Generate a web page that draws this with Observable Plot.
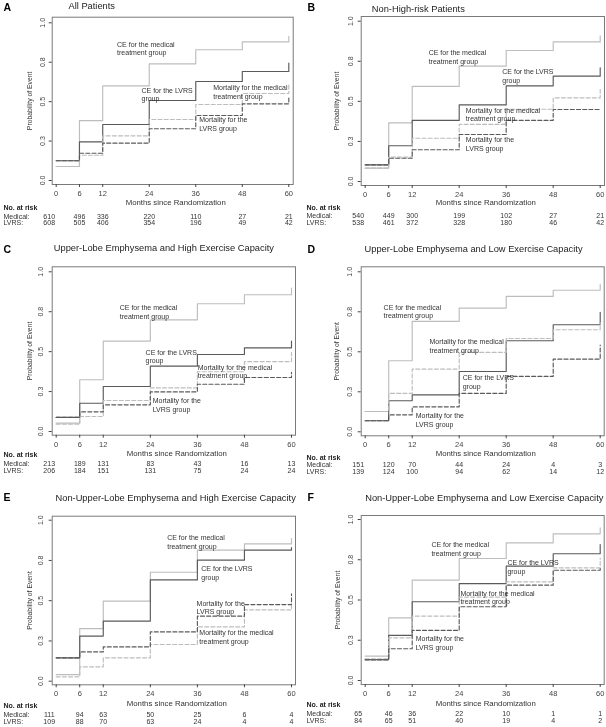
<!DOCTYPE html>
<html><head><meta charset="utf-8">
<script src="https://cdn.jsdelivr.net/npm/d3@7"></script>
<script src="https://cdn.jsdelivr.net/npm/@observablehq/plot@0.6"></script>
<style>
body{margin:0;background:#fff;}
#root{position:relative;width:606px;height:727px;overflow:hidden;background:#fff;}
.panel{position:absolute;will-change:transform;}
</style></head><body><div id="root"></div>
<script>
// ---------- data ----------
const months = [0, 6, 12, 24, 36, 48, 60];
const yTicks = [0, 0.25, 0.5, 0.75, 1];
const yTickLabels = ["0.0", "0.3", "0.5", "0.8", "1.0"];
const panelLetters = ["A", "B", "C", "D", "E", "F"];
const panelTitles = [
  "All Patients",
  "Non-High-risk Patients",
  "Upper-Lobe Emphysema and High Exercise Capacity",
  "Upper-Lobe Emphysema and Low Exercise Capacity",
  "Non-Upper-Lobe Emphysema and High Exercise Capacity",
  "Non-Upper-Lobe Emphysema and Low Exercise Capacity"
];
const seriesLabels = ["CE for the medical\ntreatment group", "CE for the LVRS\ngroup",
  "Mortality for the medical\ntreatment group", "Mortality for the\nLVRS group"];
const riskRowLabels = ["No. at risk", "Medical:", "LVRS:"];

// Panel A
const aCEMed    = [0.089, 0.380, 0.600, 0.740, 0.829, 0.879, 0.915];
const aCELvrs   = [0.125, 0.245, 0.355, 0.507, 0.628, 0.691, 0.744];
const aMortMed  = [0.089, 0.160, 0.283, 0.387, 0.482, 0.552, 0.613];
const aMortLvrs = [0.125, 0.173, 0.237, 0.328, 0.412, 0.486, 0.530];
const aRiskMed  = [610, 496, 336, 220, 110, 27, 21];
const aRiskLvrs = [608, 505, 406, 354, 196, 49, 42];
const aLabelMonth = [15.7, 22.0, 40.5, 36.9];
const aLabelProb  = [0.838, 0.547, 0.561, 0.362];

// Panel B
const bCEMed    = [0.083, 0.366, 0.593, 0.720, 0.817, 0.871, 0.909];
const bCELvrs   = [0.104, 0.223, 0.381, 0.478, 0.597, 0.657, 0.709];
const bMortMed  = [0.083, 0.152, 0.270, 0.356, 0.451, 0.522, 0.574];
const bMortLvrs = [0.104, 0.145, 0.198, 0.293, 0.381, 0.449, 0.449];
const bRiskMed  = [540, 449, 300, 199, 102, 27, 21];
const bRiskLvrs = [538, 461, 372, 328, 180, 46, 42];
const bLabelMonth = [16.2, 35.0, 25.7, 25.7];
const bLabelProb  = [0.778, 0.661, 0.419, 0.234];

// Panel C
const cCEMed    = [0.052, 0.324, 0.566, 0.699, 0.800, 0.856, 0.898];
const cCELvrs   = [0.088, 0.177, 0.282, 0.409, 0.482, 0.524, 0.566];
const cMortMed  = [0.046, 0.094, 0.194, 0.273, 0.374, 0.438, 0.495];
const cMortLvrs = [0.088, 0.123, 0.167, 0.248, 0.296, 0.338, 0.370];
const cRiskMed  = [213, 189, 131, 83, 43, 16, 13];
const cRiskLvrs = [206, 184, 151, 131, 75, 24, 24];
const cLabelMonth = [16.2, 22.8, 36.1, 24.6];
const cLabelProb  = [0.748, 0.471, 0.377, 0.166];

// Panel D
const dCEMed    = [0.127, 0.444, 0.690, 0.773, 0.846, 0.885, 0.921];
const dCELvrs   = [0.069, 0.194, 0.231, 0.377, 0.569, 0.669, 0.746];
const dMortMed  = [0.127, 0.240, 0.392, 0.496, 0.583, 0.638, 0.683];
const dMortLvrs = [0.069, 0.106, 0.156, 0.240, 0.346, 0.454, 0.542];
const dRiskMed  = [151, 120, 70, 44, 24, 4, 3];
const dRiskLvrs = [139, 124, 100, 94, 62, 14, 12];
const dLabelMonth = [4.7, 24.9, 16.4, 12.9];
const dLabelProb  = [0.753, 0.315, 0.540, 0.077];

// Panel E
const eCEMed    = [0.041, 0.327, 0.497, 0.677, 0.814, 0.853, 0.886];
const eCELvrs   = [0.145, 0.280, 0.373, 0.629, 0.752, 0.814, 0.830];
const eMortMed  = [0.027, 0.089, 0.145, 0.228, 0.337, 0.443, 0.476];
const eMortLvrs = [0.145, 0.182, 0.213, 0.306, 0.404, 0.476, 0.542];
const eRiskMed  = [111, 94, 63, 50, 25, 6, 4];
const eRiskLvrs = [109, 88, 70, 63, 24, 4, 4];
const eLabelMonth = [28.3, 37.0, 36.5, 35.8];
const eLabelProb  = [0.868, 0.674, 0.277, 0.459];

// Panel F
const fCEMed    = [0.151, 0.389, 0.623, 0.758, 0.855, 0.911, 0.948];
const fCELvrs   = [0.130, 0.280, 0.489, 0.602, 0.710, 0.787, 0.845];
const fMortMed  = [0.134, 0.265, 0.400, 0.518, 0.613, 0.700, 0.760];
const fMortLvrs = [0.128, 0.197, 0.311, 0.458, 0.592, 0.685, 0.700];
const fRiskMed  = [65, 46, 36, 22, 10, 1, 1];
const fRiskLvrs = [84, 65, 51, 40, 19, 4, 2];
const fLabelMonth = [16.9, 36.3, 24.3, 12.9];
const fLabelProb  = [0.818, 0.706, 0.517, 0.234];

// ---------- layout (pixels, panel-local) ----------
const layouts = [
  {left: 0,   top: 0,   h: 242, box: [51.7, 292.7, 16.7, 184],  xr: [55.7, 288.3], yr: [180, 22.3],
   letter: [3, 6.7], title: [68, 6], xTitleY: 202.3, tickLabDx: 9.5, yTitleDx: 22, riskY: [207.3, 216, 222.7]},
  {left: 303, top: 0,   h: 242, box: [57.7, 301, 16, 185],      xr: [61.7, 296.7], yr: [181, 20.7],
   letter: [4, 7.3], title: [68.3, 9], xTitleY: 202, tickLabDx: 10, yTitleDx: 24.4, riskY: [207.3, 215, 222.3]},
  {left: 0,   top: 242, h: 242, box: [51.7, 295, 24.3, 192.7],  xr: [55.7, 291], yr: [189, 29.3],
   letter: [3, 7], title: [53.3, 6], xTitleY: 211, tickLabDx: 11, yTitleDx: 22.4, riskY: [212, 221.3, 228.7]},
  {left: 303, top: 242, h: 242, box: [57.7, 300.7, 24.3, 193.3], xr: [61.7, 296.7], yr: [189.3, 29.3],
   letter: [4, 7], title: [61, 7], xTitleY: 210.7, tickLabDx: 11, yTitleDx: 24.4, riskY: [215.7, 222.3, 229.3]},
  {left: 0,   top: 484, h: 243, box: [51.7, 295, 31.7, 200.3],  xr: [55.7, 291], yr: [196.7, 35.7],
   letter: [3, 13.3], title: [55, 13.3], xTitleY: 219.3, tickLabDx: 11, yTitleDx: 22.4, riskY: [221.3, 230, 237.3]},
  {left: 303, top: 484, h: 243, box: [57.7, 300.7, 31, 200],    xr: [61.7, 296.7], yr: [196, 35],
   letter: [4, 13.3], title: [61.7, 13.3], xTitleY: 218.7, tickLabDx: 10.4, yTitleDx: 23.7, riskY: [220.7, 229.3, 236.7]}
];

const panelData = [
  [aCEMed, aCELvrs, aMortMed, aMortLvrs, aRiskMed, aRiskLvrs, aLabelMonth, aLabelProb],
  [bCEMed, bCELvrs, bMortMed, bMortLvrs, bRiskMed, bRiskLvrs, bLabelMonth, bLabelProb],
  [cCEMed, cCELvrs, cMortMed, cMortLvrs, cRiskMed, cRiskLvrs, cLabelMonth, cLabelProb],
  [dCEMed, dCELvrs, dMortMed, dMortLvrs, dRiskMed, dRiskLvrs, dLabelMonth, dLabelProb],
  [eCEMed, eCELvrs, eMortMed, eMortLvrs, eRiskMed, eRiskLvrs, eLabelMonth, eLabelProb],
  [fCEMed, fCELvrs, fMortMed, fMortLvrs, fRiskMed, fRiskLvrs, fLabelMonth, fLabelProb]
];

const LIGHT = "#bdbdbd", DARK = "#5a5a5a", DASH = "4,2.2";
const FONT = "'Liberation Sans', Arial, Helvetica, sans-serif";
const styles = [
  {stroke: LIGHT, dash: null},
  {stroke: DARK, dash: null},
  {stroke: LIGHT, dash: DASH},
  {stroke: DARK, dash: DASH}
];

function makePanel(i) {
  const L = layouts[i];
  const [ceMed, ceLvrs, mMed, mLvrs, riskMed, riskLvrs, labM, labP] = panelData[i];
  const [bl, br, bt, bb] = L.box;
  const W = 303, H = L.h;
  const seriesVals = [ceMed, ceLvrs, mMed, mLvrs];
  const lineMarks = seriesVals.map((vals, k) =>
    Plot.line(months.map((m, j) => ({month: m, value: vals[j]})), {
      x: "month", y: "value", curve: "step-after",
      stroke: styles[k].stroke, strokeWidth: 1.15, strokeDasharray: styles[k].dash
    }));
  const labels = seriesLabels.map((t, k) => ({text: t, month: labM[k], prob: labP[k]}));
  const riskIdx = months.map((m, j) => j);
  const rowDy = y => y - bb;
  const common = {lineAnchor: "middle"};
  const svg = Plot.plot({
    width: W, height: H,
    marginLeft: bl, marginRight: W - br, marginTop: bt, marginBottom: H - bb,
    x: {domain: [0, 60], range: L.xr},
    y: {domain: [0, 1], range: L.yr},
    style: {fontFamily: FONT, fontSize: "7.5px", color: "#333", background: "transparent", overflow: "visible"},
    marks: [
      Plot.frame({stroke: "#7a7a7a", strokeWidth: 1}),
      ...lineMarks,
      Plot.axisX({ticks: months, tickSize: 3, tickPadding: 3, tickFormat: d => String(d), label: null, fontSize: 7.5, color: "#444"}),
      Plot.axisY({ticks: yTicks, tickSize: 3, tickFormat: () => "", label: null, color: "#444"}),
      Plot.text(yTicks, {...common, y: d => d, text: (d, j) => yTickLabels[j], frameAnchor: "left", dx: -L.tickLabDx, rotate: -90, textAnchor: "middle", fontSize: 7, fill: "#444"}),
      Plot.text(["Probability of Event"], {...common, frameAnchor: "left", dx: -L.yTitleDx, rotate: -90, textAnchor: "middle", fontSize: 6.8, fill: "#333"}),
      Plot.text(["Months since Randomization"], {...common, frameAnchor: "bottom", dy: rowDy(L.xTitleY), dx: 3, textAnchor: "middle", fontSize: 7.8, fill: "#333"}),
      Plot.text(labels, {...common, x: "month", y: "prob", text: "text", textAnchor: "start", fontSize: 7, lineHeight: 1.24, fill: "#333"}),
      Plot.text([riskRowLabels[0]], {...common, frameAnchor: "bottom-left", dx: 3 - bl, dy: rowDy(L.riskY[0]), textAnchor: "start", fontSize: 7, fontWeight: "bold", fill: "#222"}),
      Plot.text([riskRowLabels[1]], {...common, frameAnchor: "bottom-left", dx: 3 - bl, dy: rowDy(L.riskY[1]), textAnchor: "start", fontSize: 7, fill: "#333"}),
      Plot.text([riskRowLabels[2]], {...common, frameAnchor: "bottom-left", dx: 3 - bl, dy: rowDy(L.riskY[2]), textAnchor: "start", fontSize: 7, fill: "#333"}),
      Plot.text(riskIdx.filter(j => j === 0), {...common, x: j => months[j], text: j => String(riskMed[j]), frameAnchor: "bottom", dx: -7, dy: rowDy(L.riskY[1]), fontSize: 7, fill: "#333"}),
      Plot.text(riskIdx.filter(j => j > 0), {...common, x: j => months[j], text: j => String(riskMed[j]), frameAnchor: "bottom", dy: rowDy(L.riskY[1]), fontSize: 7, fill: "#333"}),
      Plot.text(riskIdx.filter(j => j === 0), {...common, x: j => months[j], text: j => String(riskLvrs[j]), frameAnchor: "bottom", dx: -7, dy: rowDy(L.riskY[2]), fontSize: 7, fill: "#333"}),
      Plot.text(riskIdx.filter(j => j > 0), {...common, x: j => months[j], text: j => String(riskLvrs[j]), frameAnchor: "bottom", dy: rowDy(L.riskY[2]), fontSize: 7, fill: "#333"}),
      Plot.text([panelLetters[i]], {...common, frameAnchor: "top-left", dx: L.letter[0] - bl, dy: L.letter[1] - bt, textAnchor: "start", fontSize: 10.5, fontWeight: "bold", fill: "#000"}),
      Plot.text([panelTitles[i]], {...common, frameAnchor: "top-left", dx: L.title[0] - bl, dy: L.title[1] - bt, textAnchor: "start", fontSize: 9.3, fill: "#222"})
    ]
  });
  const div = document.createElement("div");
  div.className = "panel";
  div.style.left = L.left + "px";
  div.style.top = L.top + "px";
  div.style.width = W + "px";
  div.style.height = H + "px";
  div.appendChild(svg);
  return div;
}

const root = document.getElementById("root");
for (let i = 0; i < 6; i++) root.appendChild(makePanel(i));
</script>
</body></html>
